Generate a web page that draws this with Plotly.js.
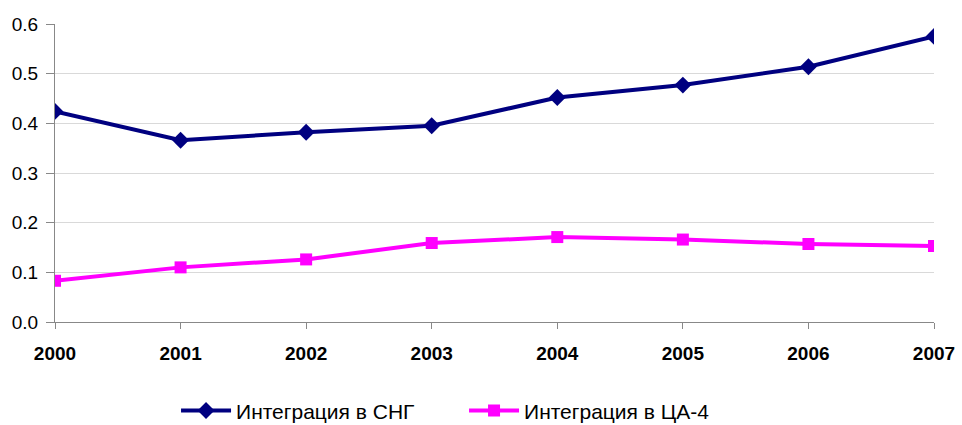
<!DOCTYPE html>
<html><head><meta charset="utf-8">
<script src="https://cdn.plot.ly/plotly-3.0.1.min.js"></script>
<style>body{margin:0;background:#fff}#c{width:962px;height:425px}</style>
</head><body><div id="c"></div>
<script>
const years = ['2000','2001','2002','2003','2004','2005','2006','2007'];
const cis = [0.424, 0.366, 0.382, 0.395, 0.452, 0.477, 0.514, 0.575];
const ca4 = [0.083, 0.110, 0.126, 0.159, 0.171, 0.166, 0.157, 0.153];
const names = ['Интеграция в СНГ', 'Интеграция в ЦА-4'];

const traces = [
  {x: years, y: cis, name: names[0], type: 'scatter', mode: 'lines+markers',
   line: {color: '#000080', width: 4}, marker: {symbol: 'diamond', size: 13, color: '#000080'}},
  {x: years, y: ca4, name: names[1], type: 'scatter', mode: 'lines+markers',
   line: {color: '#ff00ff', width: 4}, marker: {symbol: 'square', size: 12, color: '#ff00ff'}}
];
const layout = {
  width: 962, height: 425,
  margin: {l: 55, r: 28, t: 24, b: 103, autoexpand: false},
  paper_bgcolor: '#fff', plot_bgcolor: '#fff',
  font: {family: 'Liberation Sans, Arial, sans-serif', size: 19, color: '#000'},
  showlegend: true,
  legend: {orientation: 'h', x: 0.1377, xanchor: 'left', y: -0.298, yanchor: 'middle',
           font: {size: 21}, itemwidth: 50, entrywidth: 223, entrywidthmode: 'pixels'},
  xaxis: {type: 'category', range: [0, 7], showgrid: false, showline: true, linecolor: '#888', linewidth: 1,
          ticks: 'outside', ticklen: 6, tickcolor: '#888', ticklabelstandoff: 8,
          tickfont: {size: 19, family: 'Liberation Sans, Arial, sans-serif', weight: 'bold'},
          zeroline: false, fixedrange: true, automargin: false},
  yaxis: {range: [0, 0.6], dtick: 0.1, tickformat: '.1f', showgrid: true, gridcolor: '#d9d9d9', gridwidth: 1,
          showline: true, linecolor: '#888', linewidth: 1, ticks: 'outside', ticklen: 8, tickcolor: '#888',
          ticklabelstandoff: 4, zeroline: false, tickfont: {size: 19}, fixedrange: true, automargin: false}
};
Plotly.newPlot('c', traces, layout, {displayModeBar: false, staticPlot: true});
</script></body></html>
